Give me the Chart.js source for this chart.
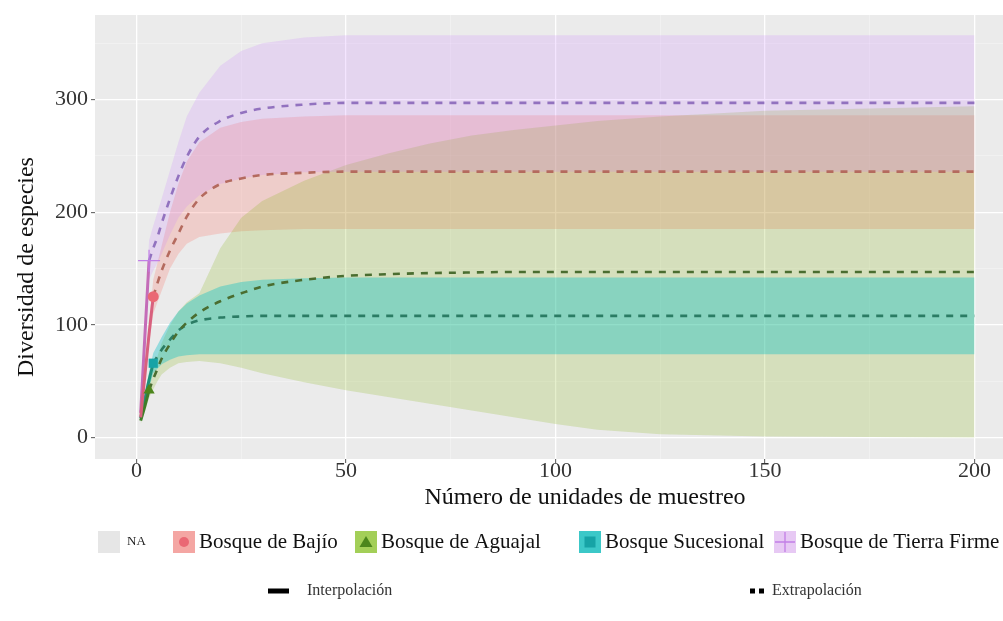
<!DOCTYPE html>
<html>
<head>
<meta charset="utf-8">
<script src="https://cdn.jsdelivr.net/npm/chart.js@4/dist/chart.umd.min.js"></script>
<style>
  html, body { margin: 0; padding: 0; background: #ffffff; }
  canvas { display: block; }
</style>
</head>
<body>
<canvas id="curvas" width="1003" height="621"></canvas>
<script>
// Sampling-unit knots shared by every curve
const samplingUnits = [1, 2, 3, 4, 5, 6, 8, 10, 12, 15, 20, 25, 30, 40, 50, 60, 70, 80, 90, 100, 110, 125, 150, 175, 200];

const seriesNames = ['Bosque de Bajío', 'Bosque de Aguajal', 'Bosque Sucesional', 'Bosque de Tierra Firme'];
// Number of sampling units actually observed in each forest type
const observedUnits = [4, 3, 4, 3];

// Bosque de Bajío
const bajioEst  = [18, 55, 92, 125, 137, 148, 166, 181, 196, 212, 225, 230, 233, 235, 236, 236, 236, 236, 236, 236, 236, 236, 236, 236, 236];
const bajioLow  = [15, 49, 83, 110, 120, 130, 150, 163, 172, 178, 181, 183, 184, 185, 185, 185, 185, 185, 185, 185, 185, 185, 185, 185, 185];
const bajioHigh = [21, 61, 101, 140, 155, 170, 200, 225, 245, 262, 275, 280, 283, 285, 286, 286, 286, 286, 286, 286, 286, 286, 286, 286, 286];

// Bosque de Aguajal
const aguajalEst  = [15, 28, 42, 52, 61, 70, 83, 94, 102, 111, 121, 128, 134, 140, 143.5, 145, 146, 146.5, 147, 147, 147, 147, 147, 147, 147];
const aguajalLow  = [12, 23, 35, 43, 50, 56, 62, 66, 67, 68, 66, 62, 57, 49, 42, 36, 30, 24, 18, 12, 7, 3, 1, 0.5, 0];
const aguajalHigh = [18, 33, 49, 61, 72, 84, 100, 112, 120, 128, 168, 195, 210, 228, 242, 252, 261, 268, 273, 277, 281, 285, 290, 292, 294];

// Bosque Sucesional
const sucesionalEst  = [17, 34, 51, 66, 72, 78, 87, 95, 100, 104, 106.5, 107.5, 108, 108, 108, 108, 108, 108, 108, 108, 108, 108, 108, 108, 108];
const sucesionalLow  = [14, 29, 44, 57, 61, 65, 69, 72, 73, 74, 74, 74, 74, 74, 74, 74, 74, 74, 74, 74, 74, 74, 74, 74, 74];
const sucesionalHigh = [20, 39, 58, 75, 82, 89, 102, 112, 119, 126, 134, 138, 140, 141.5, 142, 142, 142, 142, 142, 142, 142, 142, 142, 142, 142];

// Bosque de Tierra Firme
const firmeEst  = [22, 90, 157, 168, 178, 190, 212, 232, 249, 267, 281, 288, 292, 295.5, 297, 297, 297, 297, 297, 297, 297, 297, 297, 297, 297];
const firmeLow  = [18, 80, 140, 148, 155, 163, 180, 195, 205, 215, 225, 230, 233, 235.5, 236, 236, 236, 236, 236, 236, 236, 236, 236, 236, 236];
const firmeHigh = [26, 100, 175, 188, 200, 212, 237, 262, 285, 306, 330, 343, 350, 355, 357, 357, 357, 357, 357, 357, 357, 357, 357, 357, 357];

const xTickLabels = [0, 50, 100, 150, 200];
const yTickLabels = [0, 100, 200, 300];

const estimates = [bajioEst, aguajalEst, sucesionalEst, firmeEst];
const lowers = [bajioLow, aguajalLow, sucesionalLow, firmeLow];
const uppers = [bajioHigh, aguajalHigh, sucesionalHigh, firmeHigh];

// Styling per forest type
const styles = [
  { band: 'rgba(248,118,109,0.26)', interp: '#d8607e', extrap: '#b46a5e', marker: '#ea6874', shape: 'circle', radius: 5.5, swatch: '#f4a6a3' },
  { band: 'rgba(124,174,0,0.20)',   interp: '#3f7d28', extrap: '#4a6d30', marker: '#4c861c', shape: 'triangle', radius: 6.5, swatch: '#a3cf58' },
  { band: 'rgba(0,191,196,0.36)',   interp: '#1f8f78', extrap: '#2b7c64', marker: '#17a3a6', shape: 'rect', radius: 6.5, swatch: '#3cc8c8' },
  { band: 'rgba(199,124,255,0.20)', interp: '#c46cb8', extrap: '#9272bf', marker: '#c27fe6', shape: 'cross', radius: 11, swatch: '#e7c9f4' }
];
const SERIF = "'Liberation Serif', 'DejaVu Serif', serif";

function points(values, keep) {
  const out = [];
  samplingUnits.forEach((x, i) => { if (keep(x)) out.push({ x: x, y: values[i] }); });
  return out;
}

const datasets = [];
seriesNames.forEach((name, s) => {
  const st = styles[s];
  const n = observedUnits[s];
  const bandOrder = 40 - s * 10;
  datasets.push({
    label: name + ' inferior', data: points(lowers[s], () => true),
    borderWidth: 0, pointRadius: 0, fill: false, tension: 0, order: bandOrder
  });
  datasets.push({
    label: name + ' superior', data: points(uppers[s], () => true),
    borderWidth: 0, pointRadius: 0, fill: '-1', backgroundColor: st.band, tension: 0, order: bandOrder
  });
  datasets.push({
    label: name + ' interpolación', data: points(estimates[s], x => x <= n),
    borderColor: st.interp, borderWidth: 3, pointRadius: 0, fill: false,
    cubicInterpolationMode: 'monotone', order: 3
  });
  datasets.push({
    label: name + ' extrapolación', data: points(estimates[s], x => x >= n),
    borderColor: st.extrap, borderWidth: 2.6, borderDash: [7, 7], pointRadius: 0, fill: false,
    cubicInterpolationMode: 'monotone', order: 2
  });
  const obsIndex = samplingUnits.indexOf(n);
  datasets.push({
    label: name + ' observado', data: [{ x: n, y: estimates[s][obsIndex] }],
    showLine: false, pointStyle: st.shape, pointRadius: st.radius,
    pointBackgroundColor: st.marker, pointBorderColor: st.marker,
    pointBorderWidth: st.shape === 'cross' ? 1.2 : 0, order: 1
  });
});

// Grey panel behind the curves
const panelBackground = {
  id: 'panelBackground',
  beforeDraw(chart) {
    const { ctx, chartArea: a } = chart;
    ctx.save();
    ctx.fillStyle = '#ffffff';
    ctx.fillRect(0, 0, chart.width, chart.height);
    ctx.fillStyle = '#ebebeb';
    ctx.fillRect(a.left, a.top, a.right - a.left, a.bottom - a.top);
    ctx.restore();
  }
};

function drawShape(ctx, shape, cx, cy, color) {
  ctx.fillStyle = color;
  ctx.strokeStyle = color;
  ctx.beginPath();
  if (shape === 'circle') {
    ctx.arc(cx, cy, 5, 0, Math.PI * 2);
    ctx.fill();
  } else if (shape === 'triangle') {
    ctx.moveTo(cx, cy - 6); ctx.lineTo(cx + 6.5, cy + 5); ctx.lineTo(cx - 6.5, cy + 5); ctx.closePath();
    ctx.fill();
  } else if (shape === 'rect') {
    ctx.rect(cx - 5.5, cy - 5.5, 11, 11);
    ctx.fill();
  } else {
    ctx.lineWidth = 1.3;
    ctx.moveTo(cx - 10, cy); ctx.lineTo(cx + 10, cy);
    ctx.moveTo(cx, cy - 10); ctx.lineTo(cx, cy + 10);
    ctx.stroke();
  }
}

// Axis titles and the two legend rows
const titlesAndLegend = {
  id: 'titlesAndLegend',
  afterDraw(chart) {
    const ctx = chart.ctx;
    ctx.save();
    ctx.fillStyle = '#111';
    ctx.textBaseline = 'middle';
    ctx.textAlign = 'center';
    ctx.font = '24px ' + SERIF;
    ctx.fillText('Número de unidades de muestreo', 585, 498);
    ctx.save();
    ctx.translate(27, 267);
    ctx.rotate(-Math.PI / 2);
    ctx.fillText('Diversidad de especies', 0, 0);
    ctx.restore();

    // Row 1: forest types
    const rowY = 542;
    ctx.textAlign = 'left';
    ctx.fillStyle = '#e6e6e6';
    ctx.fillRect(98, rowY - 11, 22, 22);
    ctx.fillStyle = '#222';
    ctx.font = '13px ' + SERIF;
    ctx.fillText('NA', 127, rowY);
    const swatchX = [173, 355, 579, 774];
    ctx.font = '21px ' + SERIF;
    seriesNames.forEach((name, s) => {
      const st = styles[s];
      ctx.fillStyle = st.swatch;
      ctx.fillRect(swatchX[s], rowY - 11, 22, 22);
      drawShape(ctx, st.shape, swatchX[s] + 11, rowY, st.marker);
      ctx.fillStyle = '#111';
      ctx.fillText(name, swatchX[s] + 26, rowY);
    });

    // Row 2: line types
    const row2Y = 591;
    ctx.fillStyle = '#000';
    ctx.fillRect(268, row2Y - 2.5, 21, 5);
    ctx.fillRect(750, row2Y - 2.5, 5, 5);
    ctx.fillRect(759, row2Y - 2.5, 5, 5);
    ctx.fillStyle = '#333';
    ctx.font = '16px ' + SERIF;
    ctx.fillText('Interpolación', 307, row2Y);
    ctx.fillText('Extrapolación', 772, row2Y);
    ctx.restore();
  }
};

function gridScale(majors, step, hi) {
  const all = [];
  for (let v = 0; v <= hi; v += step) all.push(v);
  return { isMajor: v => majors.includes(v), ticks: all };
}
const xg = gridScale(xTickLabels, 25, 206.8);
const yg = gridScale(yTickLabels, 50, 375);

new Chart(document.getElementById('curvas'), {
  type: 'line',
  data: { datasets: datasets },
  options: {
    responsive: false,
    animation: false,
    events: [],
    layout: { autoPadding: false, padding: { top: 15, right: 0, bottom: 132, left: 0 } },
    plugins: {
      legend: { display: false },
      tooltip: { enabled: false },
      filler: { drawTime: 'beforeDatasetsDraw' }
    },
    scales: {
      x: {
        type: 'linear', min: -9.9, max: 206.8,
        afterBuildTicks: s => { s.ticks = xg.ticks.map(v => ({ value: v })); },
        afterFit: s => { s.height = 30; s.paddingLeft = 0; s.paddingRight = 0; },
        border: { display: false },
        grid: {
          color: c => xg.isMajor(c.tick.value) ? '#ffffff' : 'rgba(255,255,255,0.55)',
          lineWidth: c => xg.isMajor(c.tick.value) ? 1.3 : 0.6,
          tickColor: c => xg.isMajor(c.tick.value) ? '#555' : 'rgba(0,0,0,0)',
          tickLength: 4, tickWidth: 1
        },
        ticks: {
          autoSkip: false, maxRotation: 0, padding: -5, color: '#333',
          font: { family: SERIF, size: 22 },
          callback: v => xg.isMajor(v) ? String(v) : ''
        }
      },
      y: {
        type: 'linear', min: -19, max: 375,
        afterBuildTicks: s => { s.ticks = yg.ticks.map(v => ({ value: v })); },
        afterFit: s => { s.width = 95; s.paddingTop = 0; s.paddingBottom = 0; },
        border: { display: false },
        grid: {
          color: c => yg.isMajor(c.tick.value) ? '#ffffff' : 'rgba(255,255,255,0.55)',
          lineWidth: c => yg.isMajor(c.tick.value) ? 1.3 : 0.6,
          tickColor: c => yg.isMajor(c.tick.value) ? '#555' : 'rgba(0,0,0,0)',
          tickLength: 4, tickWidth: 1
        },
        ticks: {
          autoSkip: false, padding: 3, color: '#333',
          font: { family: SERIF, size: 22 },
          callback: v => yg.isMajor(v) ? String(v) : ''
        }
      }
    }
  },
  plugins: [panelBackground, titlesAndLegend]
});
</script>
</body>
</html>
